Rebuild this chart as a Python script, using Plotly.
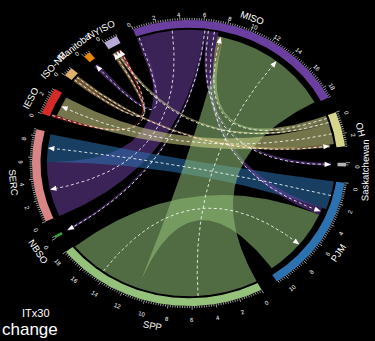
import numpy as np
import plotly.graph_objects as go

# ---- data -------------------------------------------------------------
# regions around the ring, clockwise from the top
sectors = ["MISO", "OH", "Saskatchewan", "PJM", "SPP", "NBSO",
           "SERC", "IESO", "ISO-NE", "Manitoba", "NYISO"]
sector_totals = [19.0, 3.2, 0.35, 10.9, 18.0, 0.25, 8.6, 2.5, 0.85, 0.6, 1.2]
sector_colors = ["#6b3fa0", "#d6d68a", "#b4b4b4", "#2c72b0", "#94c27a", "#3a9a3a",
                 "#d98585", "#d42a2a", "#dfb06c", "#e8860c", "#b8a8d8"]

# flows (source -> target); stacked inside each region in the order listed
flow_source = ["MISO", "MISO", "MISO", "MISO", "PJM", "MISO", "OH",
               "SPP", "SPP", "ISO-NE", "OH", "IESO", "OH", "ISO-NE"]
flow_target = ["Manitoba", "SERC", "NBSO", "Saskatchewan", "SERC", "PJM", "MISO",
               "MISO", "PJM", "NYISO", "NYISO", "NYISO", "IESO", "OH"]
flow_value = [0.45, 5.6, 0.25, 0.35, 2.8, 0.75, 0.55,
              10.9, 7.0, 0.35, 0.3, 0.3, 2.0, 0.3]

tick_major_step = 2
tick_minor_step = 0.2

legend_title = "ITx30"
caption = "change"

# ---- layout of the ring (pixel space) ---------------------------------
W, H = 375, 341
CX, CY, RX, RY = 189, 163, 157, 143
START = 110.9          # angle (deg, ccw from east) where the first region begins
GAP = 6.55             # gap between regions (deg)
R_BAR_IN, R_BAR_OUT = 0.946, 1.0
R_SRC, R_TGT = 0.932, 0.905
LINK_ALPHA = 0.55
FONT = "Liberation Sans, Arial, sans-serif"

unit = (360.0 - GAP * len(sectors)) / sum(sector_totals)
sec_start = {}
a = START
for name, tot in zip(sectors, sector_totals):
    sec_start[name] = a
    a -= tot * unit + GAP
color_of = dict(zip(sectors, sector_colors))
total_of = dict(zip(sectors, sector_totals))


def ang(name, v):
    return sec_start[name] - v * unit


def xy(theta, r):
    t = np.radians(theta)
    return CX + RX * r * np.cos(t), CY - RY * r * np.sin(t)


def arc(a0, a1, r):
    n = max(4, int(abs(a1 - a0) * 2) + 2)
    th = np.radians(np.linspace(a0, a1, n))
    return CX + RX * r * np.cos(th), CY - RY * r * np.sin(th)


def bezier(p0, p2, n=80):
    t = np.linspace(0, 1, n)[:, None]
    c = np.array([CX, CY], dtype=float)
    p0 = np.array(p0, dtype=float)
    p2 = np.array(p2, dtype=float)
    pts = (1 - t) ** 2 * p0 + 2 * t * (1 - t) * c + t ** 2 * p2
    return pts[:, 0], pts[:, 1]


def rgba(hexcol, alpha):
    h = hexcol.lstrip("#")
    r, g, b = int(h[0:2], 16), int(h[2:4], 16), int(h[4:6], 16)
    return f"rgba({r},{g},{b},{alpha})"


def text_angle(theta):
    t = np.radians(theta)
    ta = np.degrees(np.arctan2(RY * np.cos(t), RX * np.sin(t)))
    if ta > 90:
        ta -= 180
    elif ta < -90:
        ta += 180
    return ta


def text_pos(theta, offset_px, drop_px):
    # outside the ring by offset_px, text sits slightly low on screen
    x, y = xy(theta, R_BAR_OUT + offset_px / 150.0)
    return x, y + drop_px


fig = go.Figure()

# ---- links ------------------------------------------------------------
cursor = {s: 0.0 for s in sectors}
link_geo = []
for s, t, v in zip(flow_source, flow_target, flow_value):
    s0 = cursor[s]
    cursor[s] += v
    t0 = cursor[t]
    cursor[t] += v
    link_geo.append((s, t, v, s0, t0))

for s, t, v, s0, t0 in link_geo:
    sa0, sa1 = ang(s, s0), ang(s, s0 + v)
    ta0, ta1 = ang(t, t0), ang(t, t0 + v)
    x1, y1 = arc(sa0, sa1, R_SRC)
    x2, y2 = bezier(xy(sa1, R_SRC), xy(ta0, R_TGT))
    x3, y3 = arc(ta0, ta1, R_TGT)
    x4, y4 = bezier(xy(ta1, R_TGT), xy(sa0, R_SRC))
    xs = np.concatenate([x1, x2, x3, x4])
    ys = np.concatenate([y1, y2, y3, y4])
    fig.add_trace(go.Scatter(x=xs, y=ys, mode="lines", fill="toself",
                             fillcolor=rgba(color_of[s], LINK_ALPHA),
                             line=dict(width=0), hoverinfo="skip"))

# ---- direction lines with arrow heads ---------------------------------
for s, t, v, s0, t0 in link_geo:
    ms = ang(s, s0 + v / 2)
    mt = ang(t, t0 + v / 2)
    tip = np.array(xy(mt, R_TGT))
    u = tip - np.array([CX, CY])
    u = u / np.linalg.norm(u)
    perp = np.array([-u[1], u[0]])
    base = tip - 6.5 * u
    bx, by = bezier(xy(ms, R_SRC), xy(mt, R_TGT - 6.0 / 143))
    fig.add_trace(go.Scatter(x=bx, y=by, mode="lines",
                             line=dict(color="rgba(255,255,255,0.9)", width=0.9, dash="3px,2.5px"),
                             hoverinfo="skip"))
    tri = np.array([tip, base + 2.6 * perp, base - 2.6 * perp, tip])
    fig.add_trace(go.Scatter(x=tri[:, 0], y=tri[:, 1], mode="lines", fill="toself",
                             fillcolor="white", line=dict(width=0, color="white"),
                             hoverinfo="skip"))

# ---- region bars --------------------------------------------------------
for name in sectors:
    a0 = sec_start[name]
    a1 = ang(name, total_of[name])
    xo, yo = arc(a0, a1, R_BAR_OUT)
    xi, yi = arc(a1, a0, R_BAR_IN)
    fig.add_trace(go.Scatter(x=np.concatenate([xo, xi, xo[:1]]),
                             y=np.concatenate([yo, yi, yo[:1]]),
                             mode="lines", fill="toself", fillcolor=color_of[name],
                             line=dict(width=0), hoverinfo="skip"))

# ---- ticks ---------------------------------------------------------------
tx, ty = [], []
annotations = []
for name in sectors:
    tot = total_of[name]
    n_minor = int(np.floor(tot / tick_minor_step + 1e-6))
    for k in range(n_minor + 1):
        v = k * tick_minor_step
        major = abs(v / tick_major_step - round(v / tick_major_step)) < 1e-6
        length = 3.8 if major else 2.2
        th = ang(name, v)
        p0 = xy(th, R_BAR_OUT)
        p1 = xy(th, R_BAR_OUT + length / 145)
        tx += [p0[0], p1[0], None]
        ty += [p0[1], p1[1], None]
        if major:
            lx, ly = text_pos(th, 10.5, 4.5)
            annotations.append(dict(x=lx, y=ly, xref="x", yref="y", text=str(int(round(v))),
                                    showarrow=False, textangle=text_angle(th),
                                    font=dict(family=FONT, size=6, color="white"),
                                    xanchor="center", yanchor="middle"))
fig.add_trace(go.Scatter(x=tx, y=ty, mode="lines",
                         line=dict(color="white", width=0.6), hoverinfo="skip"))

# ---- region names ---------------------------------------------------------
for name in sectors:
    mid = ang(name, total_of[name] / 2)
    lx, ly = text_pos(mid, 18.5, 5)
    annotations.append(dict(x=lx, y=ly, xref="x", yref="y", text=name, showarrow=False,
                            textangle=text_angle(mid),
                            font=dict(family=FONT, size=9.5, color="white"),
                            xanchor="center", yanchor="middle"))

annotations.append(dict(x=20, y=313, xref="x", yref="y", text=legend_title, showarrow=False,
                        font=dict(family=FONT, size=11, color="white"),
                        xanchor="left", yanchor="middle"))
annotations.append(dict(x=0, y=329, xref="x", yref="y", text=caption, showarrow=False,
                        font=dict(family=FONT, size=17, color="white"),
                        xanchor="left", yanchor="middle"))

fig.update_layout(
    width=W, height=H, margin=dict(l=0, r=0, t=0, b=0),
    paper_bgcolor="black", plot_bgcolor="black", showlegend=False,
    xaxis=dict(range=[0, W], visible=False, fixedrange=True),
    yaxis=dict(range=[H, 0], visible=False, fixedrange=True),
    annotations=annotations,
)

fig.write_html("out.html")
